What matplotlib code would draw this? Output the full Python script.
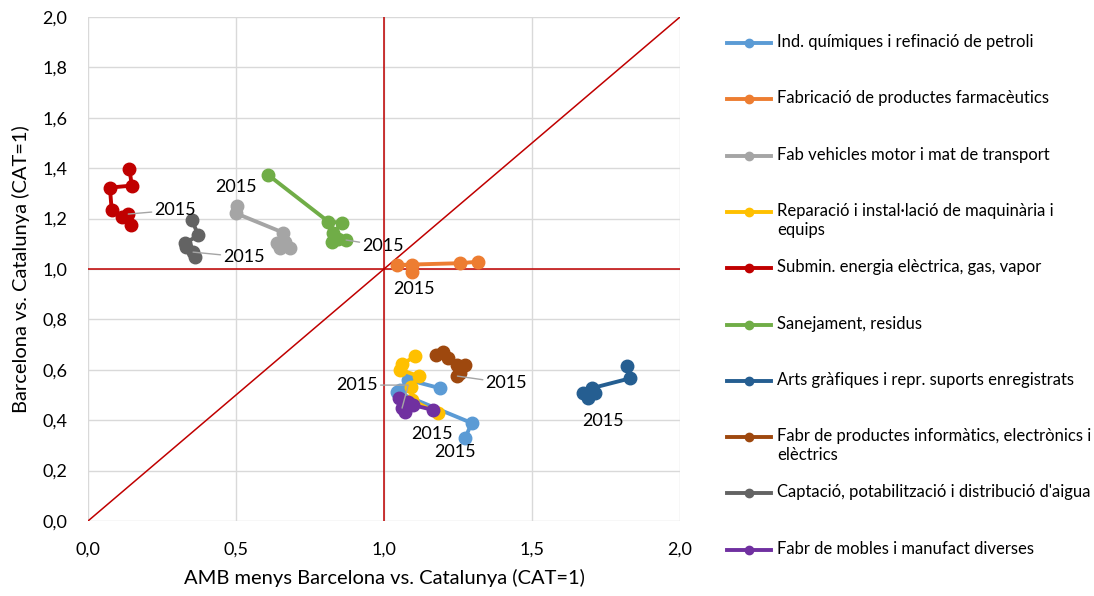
import matplotlib
matplotlib.use("Agg")
import matplotlib.pyplot as plt
from matplotlib.lines import Line2D
from matplotlib.ticker import FuncFormatter

plt.rcParams['font.family'] = ['Lato', 'DejaVu Sans']

# series: (x = AMB menys Barcelona vs. Catalunya, y = Barcelona vs. Catalunya), last point = 2015
names = [
    "Ind. químiques i refinació de petroli",
    "Fabricació de productes farmacèutics",
    "Fab vehicles motor i mat de transport",
    "Reparació i instal·lació de maquinària i\nequips",
    "Submin. energia elèctrica, gas, vapor",
    "Sanejament, residus",
    "Arts gràfiques i repr. suports enregistrats",
    "Fabr de productes informàtics, electrònics i\nelèctrics",
    "Captació, potabilització i distribució d'aigua",
    "Fabr de mobles i manufact diverses",
]
colors = ["#5B9BD5", "#ED7D31", "#A5A5A5", "#FFC000", "#C00000",
          "#70AD47", "#255E91", "#9E480E", "#636363", "#7030A0"]

quim_x = [1.189, 1.082, 1.054, 1.043, 1.296, 1.274]
quim_y = [0.527, 0.560, 0.520, 0.512, 0.389, 0.328]
farm_x = [1.319, 1.257, 1.043, 1.094, 1.094]
farm_y = [1.029, 1.023, 1.016, 1.016, 0.989]
vehi_x = [0.682, 0.649, 0.637, 0.666, 0.660, 0.500, 0.504]
vehi_y = [1.082, 1.083, 1.102, 1.108, 1.144, 1.221, 1.250]
repa_x = [1.105, 1.060, 1.055, 1.118, 1.090, 1.095, 1.181]
repa_y = [0.653, 0.622, 0.600, 0.575, 0.533, 0.480, 0.427]
ener_x = [0.140, 0.148, 0.074, 0.080, 0.114, 0.145, 0.136]
ener_y = [1.397, 1.331, 1.323, 1.234, 1.208, 1.175, 1.218]
sane_x = [0.609, 0.812, 0.857, 0.829, 0.823, 0.845, 0.872]
sane_y = [1.373, 1.188, 1.184, 1.141, 1.108, 1.118, 1.115]
arts_x = [1.820, 1.831, 1.702, 1.713, 1.673, 1.690]
arts_y = [0.615, 0.566, 0.527, 0.508, 0.507, 0.487]
info_x = [1.176, 1.200, 1.217, 1.246, 1.274, 1.257, 1.248]
info_y = [0.659, 0.671, 0.646, 0.619, 0.619, 0.586, 0.575]
aigu_x = [0.351, 0.373, 0.328, 0.331, 0.361, 0.355]
aigu_y = [1.194, 1.133, 1.103, 1.087, 1.049, 1.067]
mobl_x = [1.167, 1.099, 1.082, 1.051, 1.071, 1.061]
mobl_y = [0.440, 0.460, 0.473, 0.487, 0.434, 0.448]

xs = [quim_x, farm_x, vehi_x, repa_x, ener_x, sane_x, arts_x, info_x, aigu_x, mobl_x]
ys = [quim_y, farm_y, vehi_y, repa_y, ener_y, sane_y, arts_y, info_y, aigu_y, mobl_y]

# where the "2015" label sits, relative to the last point (pixels), and whether it has a leader line
lab_off = [(-10, -14), (2, -17), (-1, 19), (-6, -21), (47, 4),
           (37, -6), (15, -23), (49, -7), (51, -5), (-45, 23)]
leader = [False, False, False, False, True, True, False, True, True, True]

fig = plt.figure(figsize=(10.94, 5.96), dpi=100)
ax = fig.add_axes([88 / 1094, 75 / 596, 592 / 1094, 504 / 596])

ax.set_xlim(0, 2)
ax.set_ylim(0, 2)
ax.set_xticks([0, 0.5, 1.0, 1.5, 2.0])
ax.set_yticks([i * 0.2 for i in range(11)])
fmt = FuncFormatter(lambda v, p: ("%.1f" % v).replace(".", ","))
ax.xaxis.set_major_formatter(fmt)
ax.yaxis.set_major_formatter(fmt)
ax.tick_params(length=0, labelsize=13, colors="#000000")
ax.tick_params(axis="x", pad=15)
ax.tick_params(axis="y", pad=15)
for s in ax.spines.values():
    s.set_visible(False)
ax.grid(True, color="#D9D9D9", lw=1)
ax.set_axisbelow(True)

# reference lines
ax.axvline(1.0, color="#C00000", lw=1.1, zorder=1)
ax.axhline(1.0, color="#C00000", lw=1.1, zorder=1)
ax.plot([0, 2], [0, 2], color="#C00000", lw=1.1, zorder=1)

for i in range(len(names)):
    ax.plot(xs[i], ys[i], color=colors[i], lw=2.8, marker="o", ms=9, zorder=3 + i)
    ap = None
    if leader[i]:
        ap = dict(arrowstyle="-", color="#A5A5A5", lw=1, shrinkA=0, shrinkB=0)
        if i == 9:
            ap["connectionstyle"] = "angle,angleA=0,angleB=75,rad=0"
    ax.annotate("2015", xy=(xs[i][-1], ys[i][-1]), xytext=lab_off[i],
                textcoords="offset pixels", ha="center", va="center",
                fontsize=13, arrowprops=ap, zorder=20)

ax.set_xlabel("AMB menys Barcelona vs. Catalunya (CAT=1)", fontsize=14.5, labelpad=8)
ax.set_ylabel("Barcelona vs. Catalunya (CAT=1)", fontsize=14.5, labelpad=9)

# legend drawn by hand so every entry keeps the same spacing
for i in range(len(names)):
    yf = 1 - (43 + i * 56.3) / 596
    fig.add_artist(Line2D([727 / 1094, 771 / 1094], [yf, yf], color=colors[i], lw=2.8,
                          transform=fig.transFigure))
    fig.add_artist(Line2D([749 / 1094], [yf], color=colors[i], marker="o", ms=6,
                          transform=fig.transFigure))
    fig.text(777 / 1094, yf + 9 / 596, names[i], fontsize=12, va="top", ha="left",
             linespacing=1.2)

fig.savefig("out.png", dpi=100)
